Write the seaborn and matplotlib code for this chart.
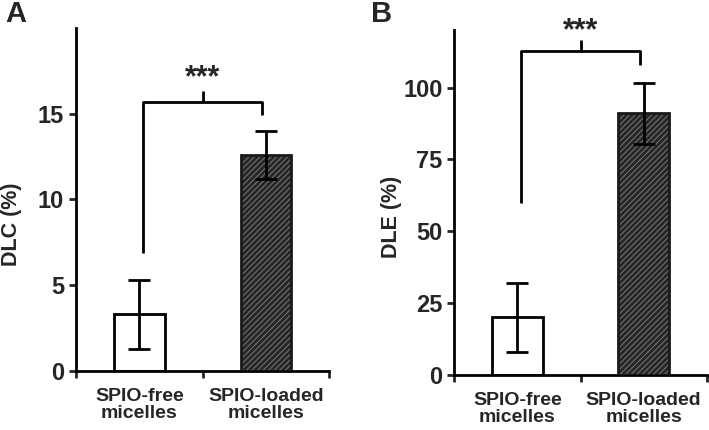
import pandas as pd
import matplotlib
matplotlib.use('Agg')
import matplotlib.pyplot as plt
from matplotlib.patches import Rectangle
import seaborn as sns

# values
categories = ['SPIO-free\nmicelles', 'SPIO-loaded\nmicelles']
dlc_mean = [3.3, 12.6]
dlc_err = [2.0, 1.4]
dle_mean = [20.0, 91.0]
dle_err = [12.0, 10.5]

# significance brackets: left start, bar height, right start, centre tick top
dlc_bracket = [6.9, 15.7, 14.9, 16.3]
dle_bracket = [60.0, 112.8, 108.0, 116.6]

sns.set_theme(style='ticks')
plt.rcParams['font.family'] = ['Liberation Sans', 'DejaVu Sans']
plt.rcParams['font.weight'] = 'bold'
plt.rcParams['hatch.linewidth'] = 0.7

fig = plt.figure(figsize=(7.09, 4.30), dpi=100)
fig.patch.set_facecolor('white')


def draw_panel(ax, mean, err, bracket, ylabel, ymax, yticks, star_y, label_xy):
    df = pd.DataFrame({'group': categories, 'value': mean})
    sns.barplot(data=df, x='group', y='value', ax=ax, errorbar=None,
                width=0.4, color='white', linewidth=2, edgecolor='black')
    bars = ax.patches
    # white bar
    bars[0].set_facecolor('white')
    bars[0].set_edgecolor('black')
    # hatched dark bar, hatch colour comes from edgecolor
    bars[1].set_facecolor('#262626')
    bars[1].set_edgecolor('#7a7a7a')
    bars[1].set_linewidth(0)
    bars[1].set_hatch('//////')
    ax.add_patch(Rectangle((bars[1].get_x(), 0), bars[1].get_width(),
                           bars[1].get_height(), fill=False,
                           edgecolor='#1a1a1a', linewidth=2, zorder=3))
    ax.errorbar(range(len(mean)), mean, yerr=err, fmt='none', ecolor='black',
                elinewidth=2, capsize=8, capthick=2, zorder=4)

    # bracket
    x0, x1 = 0.03, 0.97
    xm = (x0 + x1) / 2
    ax.plot([x0, x0, x1, x1], [bracket[0], bracket[1], bracket[1], bracket[2]],
            color='black', lw=2, clip_on=False, solid_capstyle='butt')
    ax.plot([xm, xm], [bracket[1], bracket[3]], color='black', lw=2,
            clip_on=False, solid_capstyle='butt')
    ax.text(xm, star_y, '***', ha='center', va='baseline', fontsize=22,
            fontweight='bold')

    ax.set_xlim(-0.5, 1.5)
    ax.set_ylim(0, ymax)
    ax.set_yticks(yticks)
    ax.set_xticks([-0.5, 0.5, 1.5])
    ax.set_xticklabels([])
    ax.set_xticks([0, 1], minor=True)
    ax.set_xticklabels(categories, minor=True, fontsize=14, fontweight='bold',
                       linespacing=1.0)
    ax.tick_params(axis='x', which='minor', length=0, pad=12)
    ax.tick_params(axis='x', which='major', length=5, width=2, direction='out')
    ax.tick_params(axis='y', length=5, width=2, direction='out', labelsize=17)
    for lab in ax.get_yticklabels():
        lab.set_fontweight('bold')
    ax.set_xlabel('')
    ax.set_ylabel(ylabel, fontsize=15.5, fontweight='bold')
    ax.yaxis.set_label_coords(*label_xy)
    sns.despine(ax=ax)
    for s in ['left', 'bottom']:
        ax.spines[s].set_linewidth(2)
        ax.spines[s].set_color('black')


ax_a = fig.add_axes([0.1072, 0.1372, 0.357, 0.798])
draw_panel(ax_a, dlc_mean, dlc_err, dlc_bracket, 'DLC (%)', 20,
           [0, 5, 10, 15], 16.6, (-0.212, 0.429))

ax_b = fig.add_axes([0.6408, 0.128, 0.356, 0.802])
draw_panel(ax_b, dle_mean, dle_err, dle_bracket, 'DLE (%)', 120,
           [0, 25, 50, 75, 100], 116.8, (-0.207, 0.458))

fig.text(0.008, 0.999, 'A', fontsize=21, fontweight='bold', va='top')
fig.text(0.523, 0.999, 'B', fontsize=21, fontweight='bold', va='top')

fig.savefig('out.png', dpi=100, facecolor='white')
